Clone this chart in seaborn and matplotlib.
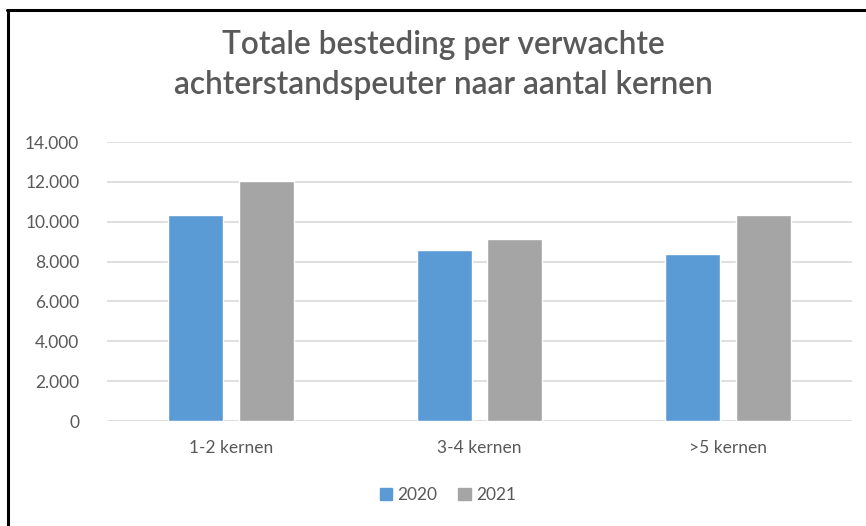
import matplotlib
matplotlib.use("Agg")
import matplotlib.pyplot as plt
from matplotlib.lines import Line2D
import pandas as pd
import seaborn as sns

# Data
categories = ["1-2 kernen", "3-4 kernen", ">5 kernen"]
years = ["2020", "2021"]
values_2020 = [10350, 8600, 8400]
values_2021 = [12050, 9150, 10350]
y_ticks = [0, 2000, 4000, 6000, 8000, 10000, 12000, 14000]
y_tick_labels = ["0", "2.000", "4.000", "6.000", "8.000", "10.000", "12.000", "14.000"]

title = "Totale besteding per verwachte\nachterstandspeuter naar aantal kernen"
colors = {"2020": "#5B9BD5", "2021": "#A5A5A5"}
text_color = "#595959"

df = pd.DataFrame({
    "categorie": categories * 2,
    "jaar": [years[0]] * 3 + [years[1]] * 3,
    "waarde": values_2020 + values_2021,
})

sns.set_theme(style="white")
plt.rcParams["font.family"] = ["Lato", "DejaVu Sans"]

fig = plt.figure(figsize=(8.66, 5.26), dpi=100)
ax = fig.add_axes([0.1236, 0.1996, 0.8602, 0.5304])

sns.barplot(data=df, x="categorie", y="waarde", hue="jaar", order=categories,
            hue_order=years, palette=colors, width=0.57, gap=0.22,
            saturation=1, ax=ax, legend=False)

ax.set_ylim(0, 14000)
ax.set_xlim(-0.5, 2.5)
ax.set_yticks(y_ticks)
ax.set_yticklabels(y_tick_labels)
ax.set_xlabel("")
ax.set_ylabel("")
ax.yaxis.grid(True, color="#D9D9D9", linewidth=1.2)
ax.set_axisbelow(True)
for s in ax.spines.values():
    s.set_visible(False)
ax.tick_params(axis="y", length=0, pad=20, labelsize=12.5, labelcolor=text_color)
ax.tick_params(axis="x", length=0, pad=14, labelsize=12.5, labelcolor=text_color)

# title
fig.text(443 / 866, 1 - 65 / 526, title, ha="center", va="center",
         fontsize=22.8, fontweight="semibold", color=text_color, linespacing=1.38)

# legend
handles = [plt.Rectangle((0, 0), 1, 1, color=colors[y]) for y in years]
fig.legend(handles, years, loc="center", bbox_to_anchor=(448 / 866, 1 - 495 / 526),
           ncol=2, frameon=False, fontsize=12.5, handlelength=0.7, handleheight=0.7,
           handletextpad=0.3, columnspacing=1.2, labelcolor=text_color)

# border (top and left as in the cropped screenshot)
fig.add_artist(Line2D([8 / 866, 8 / 866], [0, 1 - 10 / 526], color="black",
                      linewidth=2.2, transform=fig.transFigure))
fig.add_artist(Line2D([7 / 866, 1], [1 - 10 / 526, 1 - 10 / 526], color="black",
                      linewidth=2.2, transform=fig.transFigure))

fig.savefig("out.png", dpi=100, facecolor="white")
